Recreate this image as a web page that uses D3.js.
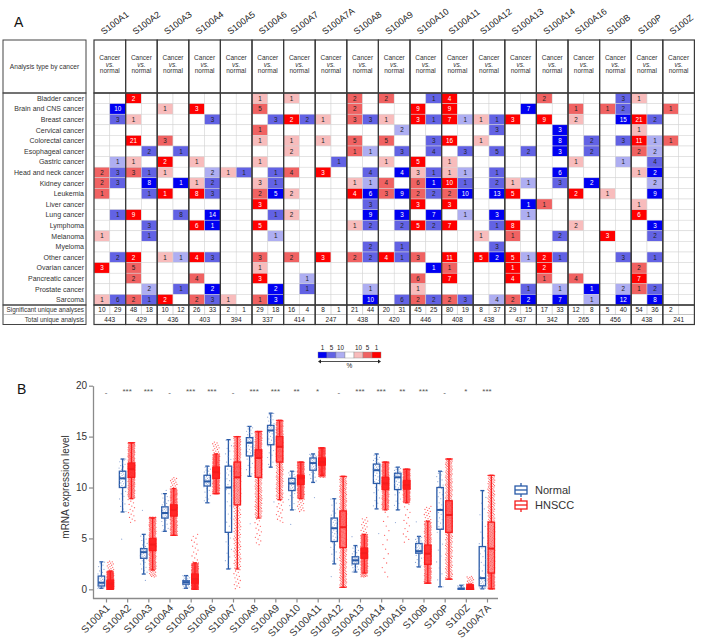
<!DOCTYPE html>
<html><head><meta charset="utf-8">
<script src="https://cdn.jsdelivr.net/npm/d3@7"></script>
<style>body{margin:0;background:#fff} svg{font-family:"Liberation Sans",Arial,sans-serif}</style>
</head><body><svg id="c" width="701" height="642"></svg>
<script>
// ---------- Panel A data ----------
const genes = ["S100A1","S100A2","S100A3","S100A4","S100A5","S100A6","S100A7","S100A7A","S100A8","S100A9","S100A10","S100A11","S100A12","S100A13","S100A14","S100A16","S100B","S100P","S100Z"];
const cancers = ["Bladder cancer","Brain and CNS cancer","Breast cancer","Cervical cancer","Colorectal cancer","Esophageal cancer","Gastric cancer","Head and neck cancer","Kidney cancer","Leukemia","Liver cancer","Lung cancer","Lymphoma","Melanoma","Myeloma","Other cancer","Ovarian cancer","Pancreatic cancer","Prostate cancer","Sarcoma"];
// token = count + level (d: top 1%, m: 5%, l: 10%), "." = none. Order follows genes.
const upRows = [
". 2d . . . 1l 1l . 2m 2m . 4d . . 2m . . 1l .",
". . 1l 3d . 5m . . 2m . 9d 9d . . . 1m 1m . 1m",
". 1l . . . . 2d 1l 3m 1l 3d 7d 1l 3d 9d 2l . 21d .",
". . . . . 1m . . . . . . . . . . . 1l .",
". 21d 3m . . 1l 1l 1l 5m 5m . 16d 1l . . . . 11d 1m",
". . . . . . 2l . 1m . . . . . . . . 2m .",
". 1l 2d 1l . 1l . . . 1l 5d 1l . . . 1l . . .",
"2m 3m 1l . 1l . 4m 3d . . 3l 1l . . . . . 1l .",
"2m . . 1l . 3l . . 1l 4m 6m 10d . 1l . . . . .",
"1m . 1d 8d . 2m 2l . 4d 3m 2m 2m . 5d . 2d 1l . .",
". . . . . 3d . . . . 3d 3d . . 1m . . 1l .",
". 9d . . . . 2l . . . . . . . . . . 6d .",
". . . 6d . 5d . . 1l . 5d 7d . 8d . 2l . . .",
"1l . . . . . . . . . . . 1l 1m . . 3d . .",
". . . . . . . . . . . . . . . . . . .",
". 2d 1l 4d . 3m 2m 3d 2m 4d 3m 11d 5d 5d 2d . . . .",
"3d 5m . . . 1l . . . . . 1m . 1d 2d . . 2m .",
". 2m . 4m . 3d . . . . 6m 7d . 4d 1m 4m . 7d .",
". . . . . . . . . . 1l . . . . . . 1m .",
"1l 2m 2d 2m 1l 1m . . . . 2m 2m . 2m . . . . ."
];
const downRows = [
". . . . . . . . . . 1m . . . . . 3m . .",
"10d . . . . . . . . . . . . 7d . . 2m . .",
"3m . . 3m . 3m 2m . 3m . 1m 1l 1m . . . 15d 2m .",
". . . . . . . . . 2l . . 3m . 3d . . . .",
". . . . . . . . . . 3m . . . 8d 2m 3m 1l .",
". 2m 1m . . . . . 1l 3m 4m 3m 5m 2m 3d 2m . 2l .",
"1l . . . . . . 1m . . . . . . . . 1l 4m .",
"3m 1m . 2l 1m 1m . . 4m 4d 1m 1l 1m . 6d . . 2d .",
"3m 8d 1d 2m . 1m . . 1l . 1d 1m 2m 1l 3m 2d . 2l .",
". 1m . 3m . 5d . . 6d 9d 2m 10d 13d . . . . 9d .",
". . . . . . . . 3m . . . . 1d . . . . .",
"1m . 8m 14d . 1m . . 9d 3d 7d 1l 3d 1l . . . . .",
". 3m . 1d . . . . 2m 2m 2m . 1m . . . . 3d .",
". 1m . . . 1l . . . . . . . . 2m . . 2m .",
". . . . . . . . 2m 1m . . 3m . . . . . .",
"2m . 1l 3m . . . . 2m 1m . . 2d 1l 1m . 3m 1m .",
". . . . . . . . . . 1d . . . . . . . .",
". . . . . . 1l . . . . . . . . . . . .",
". 2l 1m 2d . 2d 1m . 1l . . . . 1m 1l 1d 2l 2m .",
"6m 1m . 3m . 3d . . 10d 6m 2m 3m 4l 2d 7d 1l 12d 8d ."
];
const sigUp = [10,48,10,26,2,29,16,8,21,20,45,80,8,29,17,12,5,54,2];
const sigDown = [29,18,12,33,1,18,4,1,44,31,25,19,37,15,33,8,40,36,""];
const totalAnalyses = [443,429,436,403,394,337,414,247,438,420,446,408,438,437,342,265,456,438,241];
const legendLabelsBlue = ["1","5","10"];
const legendLabelsRed = ["10","5","1"];

// ---------- Panel B data ----------
const boxGenes = ["S100A1","S100A2","S100A3","S100A4","S100A5","S100A6","S100A7","S100A8","S100A9","S100A10","S100A11","S100A12","S100A13","S100A14","S100A16","S100B","S100P","S100Z","S100A7A"];
// [lower whisker, q1, median, q3, upper whisker]
const normalStats = [
[0.1,0.33,0.65,1.3,2.7],[7.6,10.0,10.9,11.6,12.8],[1.5,3.05,3.65,4.0,5.4],[5.7,7.0,7.5,8.1,9.4],
[0.1,0.5,0.7,0.85,1.35],[8.5,10.15,10.6,11.2,12.1],[2.0,5.6,10.0,12.1,14.7],[11.1,13.1,14.4,14.9,16.0],
[12.0,14.2,15.6,16.1,17.3],[7.8,9.7,10.4,10.9,11.6],[10.5,11.7,12.4,12.9,13.3],[2.5,4.7,6.0,7.0,8.9],
[1.7,2.5,2.85,3.2,4.3],[7.9,10.4,11.7,12.3,13.3],[7.8,9.8,11.0,11.4,12.0],[2.2,3.55,3.75,4.5,5.2],
[0.25,5.9,7.8,10.0,11.6],[0,0.02,0.05,0.1,0.4],[0.05,0.35,1.1,4.2,9.7]
];
const tumorStats = [
[0,0.25,0.55,0.9,1.8],[8.9,11.0,11.8,12.4,14.4],[1.9,3.8,4.4,5.0,7.0],[5.3,7.2,7.8,8.3,9.9],
[0,0.6,1.0,1.5,2.6],[9.4,10.9,11.5,12.0,13.3],[2.0,8.3,11.0,12.5,15.0],[7.0,11.0,12.9,13.7,15.5],
[8.8,12.5,14.0,15.0,16.6],[8.9,10.3,10.9,11.2,12.5],[11.2,12.2,12.5,12.9,13.9],[0.2,4.1,6.1,7.7,11.1],
[1.6,3.05,3.55,4.05,5.4],[7.8,9.8,10.4,11.0,12.5],[8.5,9.85,10.25,10.7,11.8],[0.6,2.45,3.5,4.35,6.7],
[1.0,5.6,7.3,8.7,12.8],[0,0.02,0.08,0.2,0.5],[0.05,1.6,4.0,6.6,11.2]
];
// extent of the plotted sample dots [min, max]
const normalRange = [[0.1,2.7],[3.3,12.8],[0.5,9.2],[5.7,9.9],[0.1,1.35],[8.5,12.1],[2.0,14.7],[3.6,16.0],[6.5,17.3],[5.5,11.6],[8.1,13.3],[0.5,8.9],[1.7,5.7],[4.0,13.3],[5.8,12.0],[2.2,7.5],[0.25,11.6],[0,0.5],[0.05,9.7]];
const tumorRange = [[0,2.8],[6.5,14.4],[1.2,7.1],[5.3,11.0],[0,5.5],[9.4,14.5],[0,15.0],[4.3,15.5],[6.5,16.6],[7.6,12.5],[11.0,13.9],[0.2,11.1],[1.2,7.1],[1.0,12.5],[4.5,11.8],[0.6,8.2],[1.0,12.8],[0,1.3],[0.05,11.2]];
const sampleCounts = {normal: 44, tumor: 500};
const signif = ["-","***","***","-","***","***","-","***","***","**","*","-","***","***","**","***","-","*","***"];
const yTicks = [0,5,10,15,20];
const groups = ["Normal","HNSCC"];

// ---------- drawing ----------
const svg = d3.select("#c");
const font = "Liberation Sans, Arial, sans-serif";

// ===== Panel A =====
const gA = svg.append("g");
gA.append("text").attr("x",14).attr("y",27).attr("font-size",14).attr("fill","#111").text("A");

const xG = d3.scaleBand().domain(genes).range([94, 694.4]);
const xS = d3.scaleBand().domain(["up","down"]).range([0, xG.bandwidth()]);
const yR = d3.scaleBand().domain(cancers).range([93, 305]);
const headTop = 40, headBot = 93, bodyBot = 305, sigBot = 314.5, totBot = 324.5;

const redCol = {d:"#ff0000", m:"#f06262", l:"#f8bcbc"};
const blueCol = {d:"#0000f2", m:"#6262e4", l:"#aeaef2"};

function parseRow(s){ const t = s.trim().split(/\s+/); if(t.length!==genes.length) throw new Error("bad row "+s); return t; }

// gene labels
gA.selectAll("text.gl").data(genes).join("text").attr("class","gl")
  .attr("transform", d => `translate(${xG(d)+xG.bandwidth()/2-6},35) rotate(-37)`)
  .attr("font-size",9).attr("fill","#222").text(d=>d);

// label column boxes
gA.append("rect").attr("x",3).attr("y",headTop).attr("width",83).attr("height",headBot-headTop).attr("fill","none").attr("stroke","#444").attr("stroke-width",1);
gA.append("text").attr("x",44.5).attr("y",69).attr("text-anchor","middle").attr("font-size",6.6).attr("fill","#333").text("Analysis type by cancer");
gA.append("rect").attr("x",3).attr("y",headBot).attr("width",83).attr("height",bodyBot-headBot).attr("fill","none").attr("stroke","#444").attr("stroke-width",1);
gA.selectAll("text.rl").data(cancers).join("text").attr("class","rl")
  .attr("x",84).attr("y",d=>yR(d)+yR.bandwidth()/2+2.4).attr("text-anchor","end")
  .attr("font-size",7).attr("fill","#333").text(d=>d);
gA.append("rect").attr("x",3).attr("y",bodyBot).attr("width",83).attr("height",totBot-bodyBot).attr("fill","none").attr("stroke","#444").attr("stroke-width",1);
gA.append("line").attr("x1",3).attr("x2",86).attr("y1",sigBot).attr("y2",sigBot).attr("stroke","#999").attr("stroke-width",0.6);
gA.append("text").attr("x",84).attr("y",312.2).attr("text-anchor","end").attr("font-size",6.4).attr("fill","#333").text("Significant unique analyses");
gA.append("text").attr("x",84).attr("y",322).attr("text-anchor","end").attr("font-size",6.4).attr("fill","#333").text("Total unique analysis");

// header cells
const hd = gA.selectAll("g.hd").data(genes).join("g").attr("class","hd").attr("transform",d=>`translate(${xG(d)},${headTop})`);
hd.append("rect").attr("width",xG.bandwidth()).attr("height",headBot-headTop).attr("fill","#fff");
hd.append("text").attr("x",xG.bandwidth()/2).attr("y",20).attr("text-anchor","middle").attr("font-size",6.5).attr("fill","#333").text("Cancer");
hd.append("text").attr("x",xG.bandwidth()/2).attr("y",26.5).attr("text-anchor","middle").attr("font-size",6.5).attr("font-style","italic").attr("fill","#333").text("vs.");
hd.append("text").attr("x",xG.bandwidth()/2).attr("y",33).attr("text-anchor","middle").attr("font-size",6.5).attr("fill","#333").text("normal");

// body cells
const cells = [];
cancers.forEach((c,ri)=>{
  const u = parseRow(upRows[ri]), dn = parseRow(downRows[ri]);
  genes.forEach((g,gi)=>{
    cells.push({c,g,dir:"up",tok:u[gi]});
    cells.push({c,g,dir:"down",tok:dn[gi]});
  });
});
cells.forEach(d=>{
  if(d.tok!=="."){ d.val = d.tok.slice(0,-1); d.lev = d.tok.slice(-1); } else { d.val=null; }
});
const cg = gA.selectAll("g.cell").data(cells).join("g").attr("class","cell")
  .attr("transform",d=>`translate(${xG(d.g)+xS(d.dir)},${yR(d.c)})`);
cg.append("rect").attr("width",xS.bandwidth()).attr("height",yR.bandwidth())
  .attr("fill",d=> d.val===null ? "#fff" : (d.dir==="up"?redCol[d.lev]:blueCol[d.lev]))
  .attr("stroke","#d4d4d4").attr("stroke-width",0.5);
cg.filter(d=>d.val!==null).append("text").attr("x",xS.bandwidth()/2).attr("y",yR.bandwidth()/2+2.3)
  .attr("text-anchor","middle").attr("font-size",6.3)
  .attr("fill",d=>d.lev==="d"?"#fff":"#222").text(d=>d.val);

// bottom table
const bt = gA.selectAll("g.bt").data(genes).join("g").attr("class","bt").attr("transform",d=>`translate(${xG(d)},${bodyBot})`);
bt.append("line").attr("x1",xS("down")).attr("x2",xS("down")).attr("y1",0).attr("y2",sigBot-bodyBot).attr("stroke","#bbb").attr("stroke-width",0.6);
bt.append("line").attr("x1",0).attr("x2",xG.bandwidth()).attr("y1",sigBot-bodyBot).attr("y2",sigBot-bodyBot).attr("stroke","#999").attr("stroke-width",0.6);
bt.append("text").attr("x",xS("up")+xS.bandwidth()/2).attr("y",7.4).attr("text-anchor","middle").attr("font-size",6.5).attr("fill","#222").text((d,i)=>sigUp[i]);
bt.append("text").attr("x",xS("down")+xS.bandwidth()/2).attr("y",7.4).attr("text-anchor","middle").attr("font-size",6.5).attr("fill","#222").text((d,i)=>sigDown[i]);
bt.append("text").attr("x",xG.bandwidth()/2).attr("y",17.2).attr("text-anchor","middle").attr("font-size",6.5).attr("fill","#222").text((d,i)=>totalAnalyses[i]);

// gene group borders
[[headTop,headBot],[headBot,bodyBot],[bodyBot,totBot]].forEach(([a,b])=>{
  gA.selectAll(null).data(genes).join("rect").attr("x",d=>xG(d)).attr("y",a).attr("width",xG.bandwidth()).attr("height",b-a)
    .attr("fill","none").attr("stroke","#3a3a3a").attr("stroke-width",1.2);
});

// legend A
const lg = gA.append("g");
const lx = d3.scaleBand().domain(d3.range(7)).range([318, 381]);
const lcol = [blueCol.d, blueCol.m, blueCol.l, "#fff", redCol.l, redCol.m, redCol.d];
lg.selectAll("rect").data(lcol).join("rect").attr("x",(d,i)=>lx(i)).attr("y",352).attr("width",lx.bandwidth()).attr("height",6)
  .attr("fill",d=>d).attr("stroke","#888").attr("stroke-width",0.4);
const llabels = legendLabelsBlue.concat([""], legendLabelsRed);
lg.selectAll("text").data(llabels).join("text").attr("x",(d,i)=>lx(i)+lx.bandwidth()/2).attr("y",349.5).attr("text-anchor","middle").attr("font-size",6.3).attr("fill","#222").text(d=>d);
lg.append("line").attr("x1",320).attr("x2",379).attr("y1",361.5).attr("y2",361.5).attr("stroke","#222").attr("stroke-width",0.8);
lg.append("path").attr("d","M318,361.5 l3,-2 v4 z M381,361.5 l-3,-2 v4 z").attr("fill","#222");
lg.append("text").attr("x",349.5).attr("y",368).attr("text-anchor","middle").attr("font-size",6.5).attr("fill","#222").text("%");

// ===== Panel B =====
const gB = svg.append("g");
gB.append("text").attr("x",17).attr("y",394).attr("font-size",14).attr("fill","#111").text("B");

const x = d3.scalePoint().domain(boxGenes).range([106, 487]);
const y = d3.scaleLinear().domain([-0.9, 20]).range([598.5, 385.7]);
const axisCol = "#8a8a8a";

const yAx = gB.append("g").attr("transform","translate(93,0)").call(d3.axisLeft(y).tickValues(yTicks).tickSize(4).tickSizeOuter(0));
yAx.select(".domain").attr("stroke",axisCol).attr("stroke-width",1.3);
yAx.selectAll(".tick line").attr("stroke",axisCol).attr("stroke-width",1.2);
yAx.selectAll(".tick text").attr("font-size",10).attr("fill","#333").attr("font-family",font).attr("x",-6);

const xAx = gB.append("g").attr("transform","translate(0,598.5)").call(d3.axisBottom(x).tickSize(4).tickSizeOuter(0));
xAx.select(".domain").attr("stroke",axisCol).attr("stroke-width",1.3).attr("d","M93,0H498");
xAx.selectAll(".tick line").attr("stroke",axisCol).attr("stroke-width",1.2);
xAx.selectAll(".tick text").attr("font-size",10).attr("fill","#333").attr("font-family",font)
  .attr("text-anchor","end").attr("y",0).attr("dy",0).attr("transform","translate(4,10) rotate(-45)");

gB.append("text").attr("transform","translate(69,487) rotate(-90)").attr("text-anchor","middle").attr("font-size",10).attr("fill","#333").text("mRNA expression level");

const colN = "#2a5ba8", colT = "#f41c1c";
const boxW = 6.4, offN = -4.6, offT = 4.3;
const golden = 0.6180339887498949;

function drawGroup(stats, range, n, off, col, dotCol, dotOp, rad){
  boxGenes.forEach((gname, i)=>{
    const s = stats[i], r = range[i];
    const cx = x(gname) + off;
    const g = gB.append("g");
    g.append("line").attr("x1",cx).attr("x2",cx).attr("y1",y(s[0])).attr("y2",y(s[1])).attr("stroke",col).attr("stroke-width",1.3);
    g.append("line").attr("x1",cx).attr("x2",cx).attr("y1",y(s[3])).attr("y2",y(s[4])).attr("stroke",col).attr("stroke-width",1.3);
    [s[0],s[4]].forEach(v=>g.append("line").attr("x1",cx-2).attr("x2",cx+2).attr("y1",y(v)).attr("y2",y(v)).attr("stroke",col).attr("stroke-width",1.3));
    g.append("rect").attr("x",cx-boxW/2).attr("y",y(s[3])).attr("width",boxW).attr("height",Math.max(0.8,y(s[1])-y(s[3])))
      .attr("fill","#fff").attr("stroke",col).attr("stroke-width",1.3);
    // sample cloud placed along quantiles of the summary
    const q = d3.scaleLinear().domain([0,0.03,0.25,0.5,0.75,0.97,1]).range([r[0],s[0],s[1],s[2],s[3],s[4],r[1]]);
    const pts = d3.range(n).map(k=>({p:(k+0.5)/n, j:((k*golden + i*0.37)%1)-0.5}));
    g.selectAll("circle").data(pts).join("circle").attr("cx",d=>cx+d.j*7).attr("cy",d=>y(q(d.p))).attr("r",rad)
      .attr("fill",dotCol).attr("fill-opacity",dotOp);
    g.append("line").attr("x1",cx-boxW/2).attr("x2",cx+boxW/2).attr("y1",y(s[2])).attr("y2",y(s[2])).attr("stroke",col).attr("stroke-width",2);
  });
}
drawGroup(normalStats, normalRange, sampleCounts.normal, offN, colN, "#6b8cc8", 0.75, 0.6);
drawGroup(tumorStats, tumorRange, sampleCounts.tumor, offT, colT, "#ff2020", 0.7, 0.65);

// significance marks
gB.selectAll("text.sig").data(boxGenes).join("text").attr("class","sig")
  .attr("x",d=>x(d)).attr("y",(d,i)=>signif[i]==="-"?395:394).attr("text-anchor","middle")
  .attr("font-size",8).attr("fill","#555").text((d,i)=>signif[i]);

// legend B
const lgB = gB.selectAll("g.lgb").data(groups).join("g").attr("class","lgb").attr("transform",(d,i)=>`translate(515,${490+i*15})`);
lgB.append("line").attr("x1",6).attr("x2",6).attr("y1",-7).attr("y2",7).attr("stroke",(d,i)=>i?colT:colN).attr("stroke-width",1.3);
lgB.append("rect").attr("x",0).attr("y",-4).attr("width",12).attr("height",8).attr("fill","#fff").attr("stroke",(d,i)=>i?colT:colN).attr("stroke-width",1.3);
lgB.append("line").attr("x1",0).attr("x2",12).attr("y1",0).attr("y2",0).attr("stroke",(d,i)=>i?colT:colN).attr("stroke-width",1.3);
lgB.append("text").attr("x",20).attr("y",4).attr("font-size",11).attr("fill","#333").text(d=>d);
</script></body></html>
